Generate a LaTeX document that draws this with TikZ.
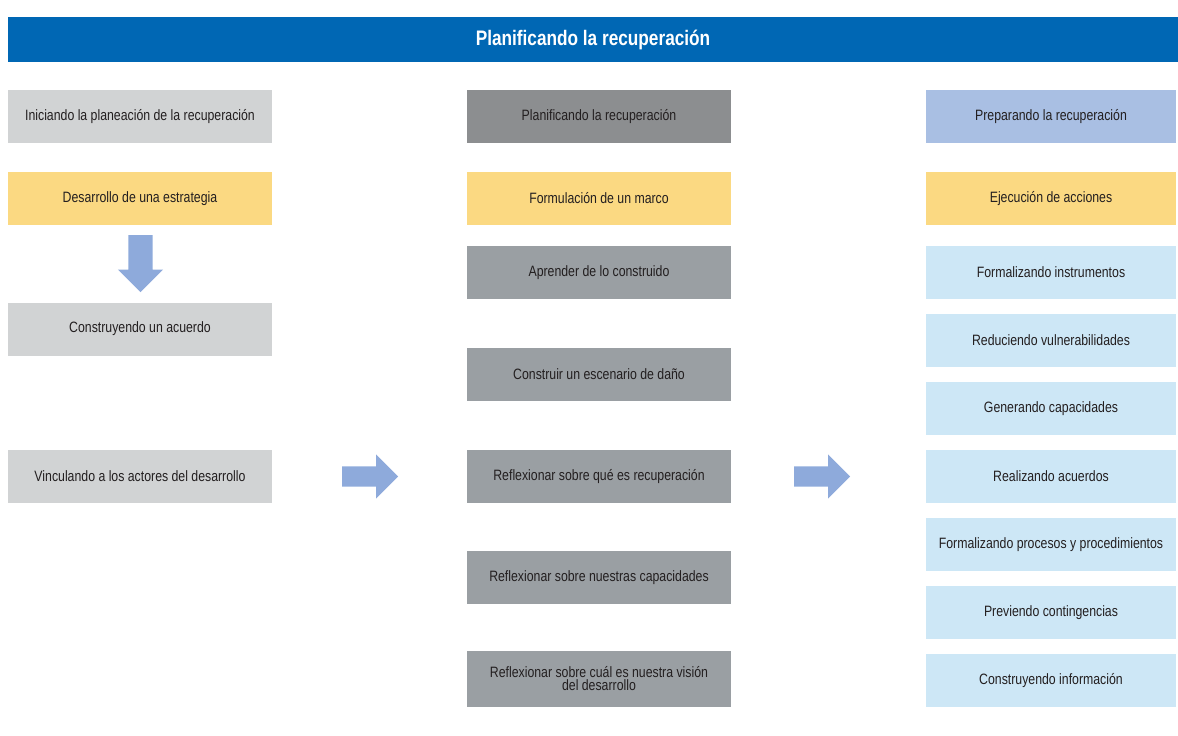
\documentclass[tikz,border=0pt]{standalone}
\usepackage{fontspec}
\setmainfont{Liberation Sans}[FakeStretch=0.82]
\usetikzlibrary{shapes.arrows}
\definecolor{barblue}{HTML}{0067B4}
\definecolor{lightgray}{HTML}{D1D3D4}
\definecolor{midgray}{HTML}{9A9FA3}
\definecolor{darkgray}{HTML}{8C8E90}
\definecolor{sandyellow}{HTML}{FBD982}
\definecolor{lavender}{HTML}{A9BFE3}
\definecolor{paleblue}{HTML}{CDE7F6}
\definecolor{arrowblue}{HTML}{8EAADB}
\definecolor{textdark}{HTML}{231F20}
\begin{document}
\begin{tikzpicture}[x=1pt, y=-1pt, font=\fontsize{15}{16}\selectfont, text=textdark,
	box/.style={minimum width=264, minimum height=53, inner sep=2pt, align=center},
	leftbox/.style={box, fill=lightgray},
	midbox/.style={box, fill=midgray},
	rightbox/.style={box, minimum width=250, fill=paleblue},
	goalbox/.style={box, fill=sandyellow},
	blockarrow/.style={single arrow, fill=arrowblue, anchor=tail, inner xsep=0pt, inner ysep=10pt, single arrow head extend=12}]
	\useasboundingbox (0, 0) rectangle (1178, 736);
		\node[fill=barblue, minimum width=1170, minimum height=45, text=white, font=\bfseries\fontsize{21}{22}\selectfont] (title) at (593, 39.5) {Planificando la recuperación};
		% izquierda
		\node[leftbox] (iniciando) at (140, 116.5) {Iniciando la planeación de la recuperación};
		\node[goalbox] (estrategia) at (140, 198.5) {Desarrollo de una estrategia};
		\node[leftbox] (acuerdo) at (140, 329) {Construyendo un acuerdo};
		\node[leftbox] (vinculando) at (140, 476.5) {Vinculando a los actores del desarrollo};
		\node[blockarrow, minimum height=57, inner xsep=12pt, inner ysep=0pt, single arrow head extend=10.5, shape border rotate=270] (abajo) at (140.5, 235) {};
		% centro
		\node[midbox, fill=darkgray] (planificando) at (599, 116.5) {Planificando la recuperación};
		\node[goalbox] (marco) at (599, 198.5) {Formulación de un marco};
		\node[midbox] (aprender) at (599, 272.5) {Aprender de lo construido};
		\node[midbox] (escenario) at (599, 374.5) {Construir un escenario de daño};
		\node[midbox] (quees) at (599, 476.5) {Reflexionar sobre qué es recuperación};
		\node[midbox] (capacidades) at (599, 577.5) {Reflexionar sobre nuestras capacidades};
		\node[midbox, minimum height=56] (vision) at (599, 679) {Reflexionar sobre cuál es nuestra visión\\[-3pt]del desarrollo};
		% derecha
		\node[rightbox, fill=lavender] (preparando) at (1051, 116.5) {Preparando la recuperación};
		\node[goalbox, minimum width=250] (ejecucion) at (1051, 198.5) {Ejecución de acciones};
		\node[rightbox] (instrumentos) at (1051, 272.5) {Formalizando instrumentos};
		\node[rightbox] (reduciendo) at (1051, 340.5) {Reduciendo vulnerabilidades};
		\node[rightbox] (generando) at (1051, 408.5) {Generando capacidades};
		\node[rightbox] (realizando) at (1051, 476.5) {Realizando acuerdos};
		\node[rightbox] (procesos) at (1051, 544.5) {Formalizando procesos y procedimientos};
		\node[rightbox] (previendo) at (1051, 612.5) {Previendo contingencias};
		\node[rightbox] (informacion) at (1051, 680.5) {Construyendo información};
		% flechas
		\node[blockarrow, minimum height=56] (haciacentro) at (342, 476.5) {};
		\node[blockarrow, minimum height=56] (haciaderecha) at (794, 476.5) {};
	\end{tikzpicture}
\end{document}
